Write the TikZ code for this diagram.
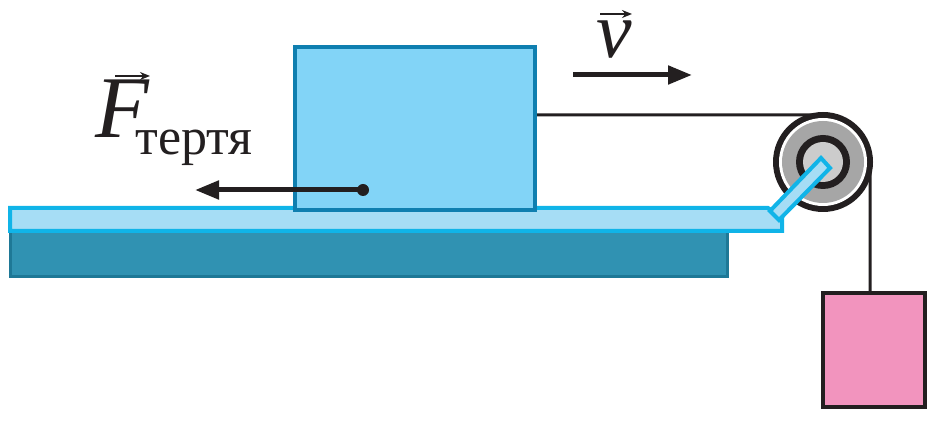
\documentclass[tikz,border=0pt]{standalone}
\usepackage{fontspec}
\newfontfamily\cyr{Liberation Serif}
\usetikzlibrary{arrows.meta}
\definecolor{lb}{HTML}{A6DDF5}
\definecolor{cy}{HTML}{10B4E8}
\definecolor{dk}{HTML}{3092B2}
\definecolor{dkb}{HTML}{1E7896}
\definecolor{blk}{HTML}{82D4F7}
\definecolor{blkb}{HTML}{0F7FB0}
\definecolor{pk}{HTML}{F294BE}
\definecolor{txt}{HTML}{231F20}
\tikzset{arr/.style={line width=2.5pt,-{Triangle[length=12pt,width=9pt]},txt},
 vecarr/.style={line width=1pt,-{Stealth[length=5pt,width=4pt]},txt}}
\begin{document}
\begin{tikzpicture}[x=0.5pt,y=-0.5pt]
\useasboundingbox (0,0) rectangle (940,421);
% base
\draw[fill=dk,draw=dkb,line width=1.5pt] (10,231) rectangle (727,277);
% rope
\draw[txt,line width=1.5pt] (535,115) -- (823,115) arc[start angle=-90,end angle=0,radius=47] -- (870,292);
% pulley
\fill[txt] (823,162) circle (50);
\fill[white] (823,162) circle (44);
\fill[gray!70] (823,162) circle (41);
\fill[txt] (823,162) circle (27);
\fill[gray!40] (823,162) circle (20);
% strip
\draw[fill=lb,draw=cy,line width=2pt] (10,208) -- (768,208) -- (778,214) -- (782,214) -- (782,231) -- (10,231) -- cycle;
% arm
\draw[fill=lb,draw=cy,line width=2pt] (770,211) -- (821,158) -- (830,168) -- (779,220) -- cycle;
% block
\node[draw=blkb,fill=blk,line width=2pt,minimum width=120pt,minimum height=81.5pt,inner sep=0] (block) at (415,128.5) {};
% weight
\node[draw=txt,fill=pk,line width=2pt,minimum width=51pt,minimum height=57pt,inner sep=0] (w) at (873.5,350) {};
% friction
\fill[txt] (363,190) coordinate (d) circle (6);
\coordinate (fe) at (195,190);
\draw[arr] (d) -- (fe);
\coordinate (v1) at (573,75); \coordinate (v2) at (692,75);
\draw[arr] (v1) -- (v2);
\node[txt,anchor=base west,inner sep=0,font=\fontsize{40}{44}\cyr\itshape] (vl) at (596,58) {v};
\coordinate (va) at (600,14); \coordinate (vb) at (632,14);
\draw[vecarr] (va) -- (vb);
\node[txt,anchor=base west,inner sep=0,font=\fontsize{44}{46}\cyr\itshape] (fl) at (95,138) {F};
\coordinate (fa) at (115,76); \coordinate (fb) at (150,76);
\draw[vecarr] (fa) -- (fb);
\node[txt,anchor=base west,inner sep=0,font=\fontsize{26}{28}\cyr] (sub) at (135,155) {тертя};
\end{tikzpicture}
\end{document}
